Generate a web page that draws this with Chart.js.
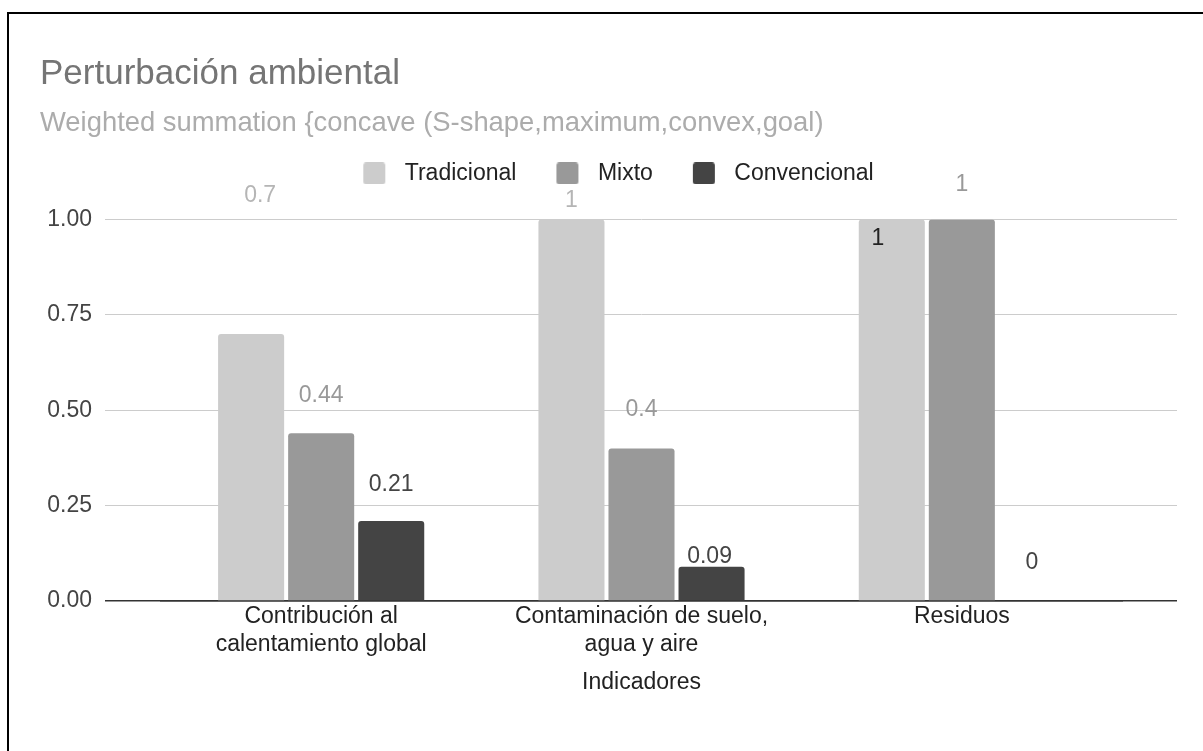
<!DOCTYPE html>
<html>
<head>
<meta charset="utf-8">
<title>Perturbación ambiental</title>
<script src="https://cdn.jsdelivr.net/npm/chart.js"></script>
<style>
    html, body { margin: 0; padding: 0; background: #fff; }
    .wrap { position: relative; width: 1203px; height: 751px; overflow: hidden; }
    .frame { position: absolute; left: 7px; top: 12px; right: 0; bottom: 0;
             border-top: 2px solid #000; border-left: 2px solid #000; }
    #chart { position: absolute; left: 0; top: 0; }
</style>
</head>
<body>
<div class="wrap">
    <div class="frame"></div>
    <canvas id="chart" width="1203" height="751"></canvas>
</div>
<script>
const categories = [
    ["Contribución al", "calentamiento global"],
    ["Contaminación de suelo,", "agua y aire"],
    ["Residuos"]
];
const seriesNames = ["Tradicional", "Mixto", "Convencional"];
const tradicional = [0.7, 1, 1];
const mixto = [0.44, 0.4, 1];
const convencional = [0.21, 0.09, 0];
const yTicks = [0, 0.25, 0.5, 0.75, 1];

const barColors = ["#cccccc", "#999999", "#444444"];
const labelColors = ["#b5b5b5", "#999999", "#444444"];
// where google put each value label, relative to the bar top (px)
const labelShift = [[-138, -19, 19], [-37, -39, -35], [-36, -10, -38]];
const labelNudgeX = [[9, 0, -14], [0, 0, 0], [0, -2, 0]];

Chart.defaults.font.family = "'Liberation Sans', Arial, sans-serif";
Chart.defaults.font.size = 23;
Chart.defaults.color = "#222";

const swatch = (color) => {
    // transparent room left and right of the square, to space the legend like the original
    const c = document.createElement("canvas");
    c.width = 50;
    c.height = 22;
    const g = c.getContext("2d");
    g.fillStyle = color;
    g.beginPath();
    g.roundRect(20, 0, 22, 22, 3);
    g.fill();
    return c;
};
const swatches = barColors.map(swatch);

const barLabels = {
    id: "barLabels",
    afterDatasetsDraw(chart) {
        const ctx = chart.ctx;
        ctx.save();
        ctx.font = "23px 'Liberation Sans', Arial, sans-serif";
        ctx.textAlign = "center";
        ctx.textBaseline = "middle";
        chart.data.datasets.forEach((ds, i) => {
            chart.getDatasetMeta(i).data.forEach((bar, j) => {
                const dy = labelShift[i][j];
                ctx.fillStyle = dy > 0 ? "#222" : labelColors[i];
                ctx.fillText(String(ds.data[j]), bar.x + labelNudgeX[i][j], bar.y + dy);
            });
        });
        ctx.restore();
    }
};

const legendSpace = {
    id: "legendSpace",
    beforeInit(chart) {
        const fit = chart.legend.fit;
        chart.legend.fit = function () {
            fit.bind(chart.legend)();
            this.height += 24.5;
        };
    }
};

const gridColor = (c) => (c.tick && c.tick.value === 0 ? "#333" : "#cccccc");
const gridWidth = (c) => (c.tick && c.tick.value === 0 ? 1.5 : 1);
const setTicks = (scale) => { scale.ticks = yTicks.map((v) => ({ value: v })); };

new Chart(document.getElementById("chart"), {
    type: "bar",
    data: {
        labels: categories,
        datasets: [
            { label: seriesNames[0], data: tradicional, backgroundColor: barColors[0] },
            { label: seriesNames[1], data: mixto, backgroundColor: barColors[1] },
            { label: seriesNames[2], data: convencional, backgroundColor: barColors[2] }
        ]
    },
    options: {
        responsive: false,
        animation: false,
        devicePixelRatio: 1,
        categoryPercentage: 0.656,
        barPercentage: 0.943,
        borderRadius: { topLeft: 3, topRight: 3 },
        borderSkipped: "start",
        layout: { padding: { left: 40, right: 26, top: 0, bottom: 0 } },
        plugins: {
            title: {
                display: true,
                text: "Perturbación ambiental",
                align: "start",
                color: "#757575",
                font: { size: 35, weight: "normal" },
                padding: { top: 53, bottom: 0 }
            },
            subtitle: {
                display: true,
                text: "Weighted summation {concave (S-shape,maximum,convex,goal)",
                align: "start",
                color: "#acacac",
                font: { size: 27.4 },
                padding: { top: 11.8, bottom: 2.3 }
            },
            legend: {
                display: true,
                position: "top",
                labels: {
                    usePointStyle: true,
                    pointStyleWidth: 50,
                    boxHeight: 22,
                    padding: 20,
                    color: "#222",
                    font: { size: 23 },
                    generateLabels(chart) {
                        const items = Chart.defaults.plugins.legend.labels.generateLabels(chart);
                        items.forEach((it, i) => { it.pointStyle = swatches[i]; });
                        return items;
                    }
                }
            },
            tooltip: { enabled: false }
        },
        scales: {
            x: {
                z: 1,
                grid: { display: false, drawTicks: false },
                border: { display: true, color: "#333", width: 1.5 },
                ticks: { color: "#222", padding: 2, maxRotation: 0, autoSkip: false, font: { size: 23 } },
                title: {
                    display: true,
                    text: "Indicadores",
                    color: "#222",
                    font: { size: 23 },
                    padding: { top: 0, bottom: 54.5 }
                },
                afterFit: (s) => { s.height = 150; }
            },
            y: {
                min: 0,
                max: 1,
                afterBuildTicks: setTicks,
                grid: { color: gridColor, lineWidth: gridWidth, tickLength: 56 },
                border: { display: false },
                ticks: { color: "#444", padding: 13, font: { size: 23 }, callback: (v) => Number(v).toFixed(2) },
                afterFit: (s) => { s.width = 121; }
            },
            y2: {
                position: "right",
                min: 0,
                max: 1,
                afterBuildTicks: setTicks,
                grid: { drawOnChartArea: false, color: gridColor, lineWidth: gridWidth, tickLength: 55 },
                border: { display: false },
                ticks: { display: false },
                afterFit: (s) => { s.width = 55; }
            }
        }
    },
    plugins: [barLabels, legendSpace]
});
</script>
</body>
</html>
